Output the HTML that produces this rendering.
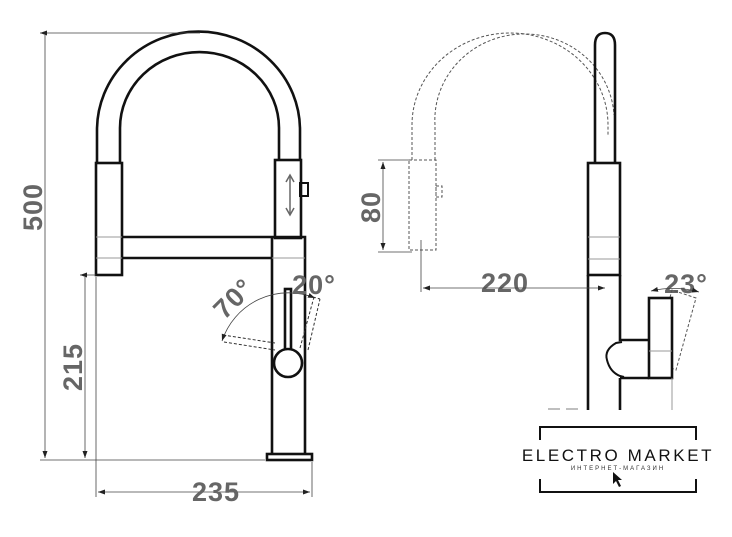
<!DOCTYPE html>
<html><head><style>html,body{margin:0;padding:0;background:#fff}svg{display:block}</style></head>
<body>
<svg width="732" height="537" viewBox="0 0 732 537" xmlns="http://www.w3.org/2000/svg" font-family="Liberation Sans, sans-serif">
<defs>
<marker id="ar" markerWidth="8" markerHeight="8" refX="7" refY="4" orient="auto-start-reverse" markerUnits="userSpaceOnUse"><path d="M0,1.5 L7,4 L0,6.5 Z" fill="#222"/></marker>
</defs>
<g fill="none" stroke="#111" stroke-width="2.6">
<path d="M97,163 L97,130 A101,98 0 0 1 300,130 L300,160"/>
<path d="M120,163 L120,128 A79.5,76 0 0 1 279,128 L279,160"/>
<rect x="96" y="163" width="26" height="112"/>
<rect x="275" y="160" width="26" height="78"/>
<path d="M122,237 L305,237 L305,455 M122,258 L272,258 M272,237 L272,455"/>
<rect x="267" y="454" width="45" height="6"/>
<rect x="285" y="289" width="6" height="62"/>
<circle cx="288" cy="363" r="14" fill="#fff"/>
<rect x="300" y="183" width="8" height="13" stroke-width="2"/>
</g>
<g stroke="#999" stroke-width="1" fill="none">
<path d="M96,237 L122,237 M96,258 L122,258 M272,258 L305,258"/>
<path d="M290,176 L290,214" stroke="#666" stroke-width="1.5"/>
</g>
<path d="M286,182 L290,175 L294,182 M286,208 L290,215 L294,208" stroke="#666" stroke-width="1.5" fill="none"/>
<g stroke="#333" stroke-width="1" stroke-dasharray="3,2" fill="none">
<path d="M224,342 L275,350 M223,335 L275,343"/>
<path d="M300,348 L314,297 M308,350 L320,299 M313,297 L320,299"/>
</g>
<path d="M222,341 A70,70 0 0 1 315,298" stroke="#444" stroke-width="0.8" fill="none" marker-start="url(#ar)" marker-end="url(#ar)"/>
<g stroke="#444" stroke-width="0.8" fill="none">
<path d="M40,33 L200,33 M40,460 L265,460 M45,35 L45,458" marker-start="url(#ar)" marker-end="url(#ar)"/>
<path d="M80,275 L96,275 M85,277 L85,458" marker-start="url(#ar)" marker-end="url(#ar)"/>
<path d="M96,277 L96,497 M312,462 L312,497"/>
<path d="M98,492 L310,492" marker-start="url(#ar)" marker-end="url(#ar)"/>
</g>
<g fill="#666" font-weight="bold" font-size="27" letter-spacing="1">
<text transform="translate(42,207) rotate(-90)" text-anchor="middle">500</text>
<text transform="translate(82,367) rotate(-90)" text-anchor="middle">215</text>
<text x="216" y="501" text-anchor="middle">235</text>
<text transform="translate(240,305) rotate(-45)" text-anchor="middle">70°</text>
<text x="314" y="294" text-anchor="middle">20°</text>
<text x="505" y="292" text-anchor="middle">220</text>
<text transform="translate(380,207) rotate(-90)" text-anchor="middle">80</text>
<text x="686" y="293" text-anchor="middle">23°</text>
</g>
<g stroke="#555" stroke-width="1" stroke-dasharray="3,2" fill="none">
<path d="M412,160 L412,125 A98,92 0 0 1 608,125 L608,135"/>
<path d="M435,160 L435,125 A75,72 0 0 1 614,115"/>
<rect x="409" y="160" width="27" height="90"/>
<rect x="436" y="186" width="6" height="11"/>
<path d="M653,360 L672,290 L696,298 L676,370 Z"/>
</g>
<g fill="none" stroke="#111" stroke-width="2.6">
<path d="M595,163 L595,45 Q595,33 605,33 Q615,33 615,45 L615,163"/>
<rect x="588" y="163" width="32" height="112"/>
<path d="M588,275 L588,410 M620,275 L620,340 L649,340 M620,378 L620,410 M620,378 L649,378"/>
<rect x="649" y="298" width="23" height="80" fill="#fff"/>
<path d="M622,342 L616,343 Q604,350 607,360 Q610,372 620,376 L624,377" stroke-width="2" fill="#fff"/>
</g>
<g stroke="#999" stroke-width="1" fill="none">
<path d="M588,237 L620,237 M588,259 L620,259 M649,351 L672,351 M672,378 L672,410"/>
</g>
<g stroke="#444" stroke-width="0.8" fill="none">
<path d="M378,160 L409,160 M378,252 L412,252 M421,240 L421,292"/>
<path d="M383,162 L383,250" marker-start="url(#ar)" marker-end="url(#ar)"/>
<path d="M423,288 L605,288" marker-start="url(#ar)" marker-end="url(#ar)"/>
<path d="M651,291 A95,95 0 0 1 699,292" marker-start="url(#ar)" marker-end="url(#ar)"/>
</g>
<path d="M548,409 L560,409 M566,409 L578,409" stroke="#aaa" stroke-width="1.5"/>
<rect x="530" y="412" width="180" height="88" fill="#fff"/>
<path d="M540,440 L540,427 L696,427 L696,440 M540,479 L540,492 L696,492 L696,479" stroke="#111" stroke-width="2" fill="none"/>
<text x="618" y="461" text-anchor="middle" font-size="17" letter-spacing="2.6" fill="#111">ELECTRO MARKET</text>
<text x="618" y="470" text-anchor="middle" font-size="6" letter-spacing="2" fill="#333">ИНТЕРНЕТ-МАГАЗИН</text>
<path d="M613,472 L613,484 L616,481 L619,487 L621,486 L618,480 L622,480 Z" fill="#111"/>
</svg>
</body></html>
